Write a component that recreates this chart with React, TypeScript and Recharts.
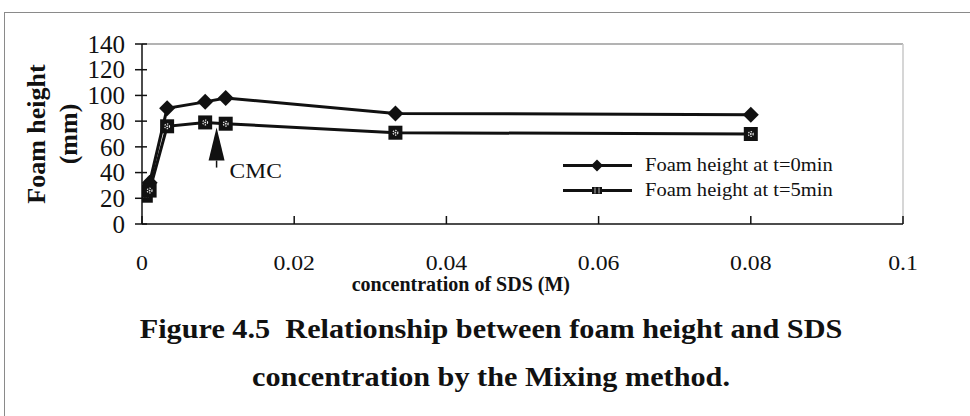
import React from 'react';
import {
  LineChart,
  Line,
  XAxis,
  YAxis,
  ReferenceLine,
  ReferenceDot,
  Legend,
  Label,
} from 'recharts';

// values
const concentration = [0.0005, 0.001, 0.0033, 0.0083, 0.011, 0.0333, 0.08];
const heightT0 = [27, 32, 90, 95, 98, 86, 85];
const heightT5 = [22, 26, 76, 79, 78, 71, 70];
const xTicks = [0, 0.02, 0.04, 0.06, 0.08, 0.1];
const yTicks = [0, 20, 40, 60, 80, 100, 120, 140];
const seriesNames = ['Foam height at t=0min', 'Foam height at t=5min'];
const cmcMark = { x: 0.0098, y: 75, label: 'CMC' };
const yTitle = ['Foam height', '(mm)'];
const xTitle = 'concentration of SDS (M)';
const caption = [
  'Figure 4.5  Relationship between foam height and SDS',
  'concentration by the Mixing method.',
];

const data = concentration.map((x, i) => ({ x, t0: heightT0[i], t5: heightT5[i] }));

const FONT = "'Liberation Serif', 'Times New Roman', serif";
const INK = '#111';
const X_TICK_GAP = 30;
const Y_TICK_GAP = 17;

function Stretch({ x, y, sx = 1, size, bold = false, anchor = 'start', dy, children }: any) {
  return (
    <g transform={`translate(${x},${y}) scale(${sx},1)`}>
      <text
        x={0}
        y={0}
        dy={dy}
        fontSize={size}
        fontFamily={FONT}
        fontWeight={bold ? 700 : 400}
        textAnchor={anchor}
        fill={INK}
      >
        {children}
      </text>
    </g>
  );
}

const DiamondDot = (props: any) => {
  const { cx, cy, index } = props;
  if (cx == null || cy == null) return <g key={`d-${index}`} />;
  const s = 8;
  return (
    <path
      key={`d-${index}`}
      d={`M${cx},${cy - s}L${cx + s},${cy}L${cx},${cy + s}L${cx - s},${cy}Z`}
      fill={INK}
    />
  );
};

const SquareDot = (props: any) => {
  const { cx, cy, index } = props;
  if (cx == null || cy == null) return <g key={`s-${index}`} />;
  const h = 7;
  return (
    <g key={`s-${index}`}>
      <rect x={cx - h} y={cy - h} width={2 * h} height={2 * h} fill={INK} />
      <circle cx={cx} cy={cy} r={2.4} fill="none" stroke="#e8e8e8" strokeWidth={1.2} strokeDasharray="1.3 1.2" />
      <circle cx={cx} cy={cy} r={0.9} fill="#e8e8e8" />
    </g>
  );
};

const XTick = (props: any) => {
  const { x, y, payload } = props;
  const axisY = y - X_TICK_GAP;
  return (
    <g>
      <line x1={x} x2={x} y1={axisY} y2={axisY - 8} stroke={INK} strokeWidth={1.5} />
      <Stretch x={x} y={y} dy="0.71em" size={22} sx={1.08} anchor="middle">
        {String(payload.value)}
      </Stretch>
    </g>
  );
};

const YTick = (props: any) => {
  const { x, y, payload } = props;
  const axisX = x + Y_TICK_GAP;
  return (
    <g>
      <line x1={axisX - 7} x2={axisX + 5} y1={y} y2={y} stroke={INK} strokeWidth={1.5} />
      <Stretch x={x} y={y} dy="0.35em" size={25} anchor="end">
        {payload.value}
      </Stretch>
    </g>
  );
};

const YTitle = (props: any) => {
  const { x, y, height } = props.viewBox;
  const cy = y + height / 2;
  const a = x - 37;
  const b = x - 5;
  return (
    <g fontFamily={FONT} fontWeight={700} fontSize={26} fill={INK}>
      <text x={a} y={cy} textAnchor="middle" transform={`rotate(-90, ${a}, ${cy})`}>
        {yTitle[0]}
      </text>
      <text x={b} y={cy} textAnchor="middle" transform={`rotate(-90, ${b}, ${cy})`}>
        {yTitle[1]}
      </text>
    </g>
  );
};

const XTitle = (props: any) => {
  const { x, y, width } = props.viewBox;
  return (
    <Stretch x={x + width * 0.419} y={y + 67} size={20} bold anchor="middle">
      {xTitle}
    </Stretch>
  );
};

const CmcArrow = (props: any) => {
  const { cx, cy } = props;
  return (
    <g>
      <path d={`M${cx},${cy}L${cx + 8},${cy + 33}L${cx - 8},${cy + 33}Z`} fill={INK} />
      <line x1={cx} x2={cx} y1={cy + 33} y2={cy + 40} stroke={INK} strokeWidth={1.5} />
      <Stretch x={cx + 13} y={cy + 50} size={21} sx={1.12}>
        {cmcMark.label}
      </Stretch>
    </g>
  );
};

const LegendIcon = ({ kind }: { kind: string }) => (
  <svg width={70} height={25} style={{ display: 'block' }}>
    <line x1={0} x2={69} y1={12.5} y2={12.5} stroke={INK} strokeWidth={3} />
    {kind === 'diamond' ? (
      <path d="M34,6.5L40,12.5L34,18.5L28,12.5Z" fill={INK} />
    ) : (
      <g>
        <rect x={29} y={9} width={10} height={7} fill={INK} />
        <line x1={32} x2={32} y1={9.5} y2={15.5} stroke="#ddd" strokeWidth={0.8} />
        <line x1={36} x2={36} y1={9.5} y2={15.5} stroke="#ddd" strokeWidth={0.8} />
      </g>
    )}
  </svg>
);

const renderLegend = () => (
  <div style={{ fontFamily: FONT, color: INK }}>
    {seriesNames.map((name, i) => (
      <div key={name} style={{ display: 'flex', alignItems: 'center', height: 25 }}>
        <LegendIcon kind={i === 0 ? 'diamond' : 'square'} />
        <span
          style={{
            marginLeft: 12,
            fontSize: 18,
            display: 'inline-block',
            transform: 'scaleX(1.14)',
            transformOrigin: 'left center',
            whiteSpace: 'nowrap',
          }}
        >
          {name}
        </span>
      </div>
    ))}
  </div>
);

export default function App() {
  return (
    <div
      style={{
        position: 'absolute',
        left: 0,
        top: 0,
        width: 970,
        height: 416,
        overflow: 'hidden',
        background: '#fff',
      }}
    >
      <div
        style={{
          position: 'absolute',
          left: 4,
          top: 12,
          width: 1000,
          height: 500,
          borderTop: '1.5px solid #8a8a8a',
          borderLeft: '1.5px solid #8a8a8a',
        }}
      />
      <div style={{ position: 'absolute', left: 0, top: 0 }}>
        <LineChart
          width={970}
          height={416}
          data={data}
          margin={{ top: 44, right: 67, bottom: 152, left: 82 }}
        >
          <XAxis
            type="number"
            dataKey="x"
            domain={[0, 0.1]}
            ticks={xTicks}
            interval={0}
            height={40}
            tickSize={0}
            tickMargin={X_TICK_GAP}
            tickLine={false}
            tick={(p: any) => <XTick {...p} />}
            axisLine={{ stroke: INK, strokeWidth: 1.5 }}
            allowDataOverflow
          >
            <Label content={XTitle} />
          </XAxis>
          <YAxis
            type="number"
            domain={[0, 140]}
            ticks={yTicks}
            interval={0}
            width={60}
            tickSize={0}
            tickMargin={Y_TICK_GAP}
            tickLine={false}
            tick={(p: any) => <YTick {...p} />}
            axisLine={{ stroke: INK, strokeWidth: 1.5 }}
            allowDataOverflow
          >
            <Label content={YTitle} />
          </YAxis>
          <ReferenceLine y={140} stroke="#9a9a9a" strokeWidth={1.5} />
          <ReferenceLine x={0.1} stroke="#c8c8c8" strokeWidth={1.5} />
          <Legend
            content={renderLegend}
            layout="horizontal"
            verticalAlign="middle"
            align="center"
            wrapperStyle={{ left: 563, top: 152.5, width: 300 }}
          />
          <Line
            dataKey="t0"
            name={seriesNames[0]}
            stroke={INK}
            strokeWidth={3}
            dot={(p: any) => <DiamondDot {...p} />}
            activeDot={false}
            isAnimationActive={false}
          />
          <Line
            dataKey="t5"
            name={seriesNames[1]}
            stroke={INK}
            strokeWidth={3}
            dot={(p: any) => <SquareDot {...p} />}
            activeDot={false}
            isAnimationActive={false}
          />
          <ReferenceDot x={cmcMark.x} y={cmcMark.y} r={0} shape={(p: any) => <CmcArrow {...p} />} />
        </LineChart>
      </div>
      <div
        style={{
          position: 'absolute',
          left: 0,
          top: 305,
          width: 982,
          textAlign: 'center',
          fontFamily: FONT,
          fontWeight: 700,
          fontSize: 27,
          lineHeight: '48px',
          color: INK,
          whiteSpace: 'pre',
          transform: 'scaleX(1.12)',
          transformOrigin: 'center top',
        }}
      >
        {caption[0]}
        <br />
        {caption[1]}
      </div>
    </div>
  );
}
